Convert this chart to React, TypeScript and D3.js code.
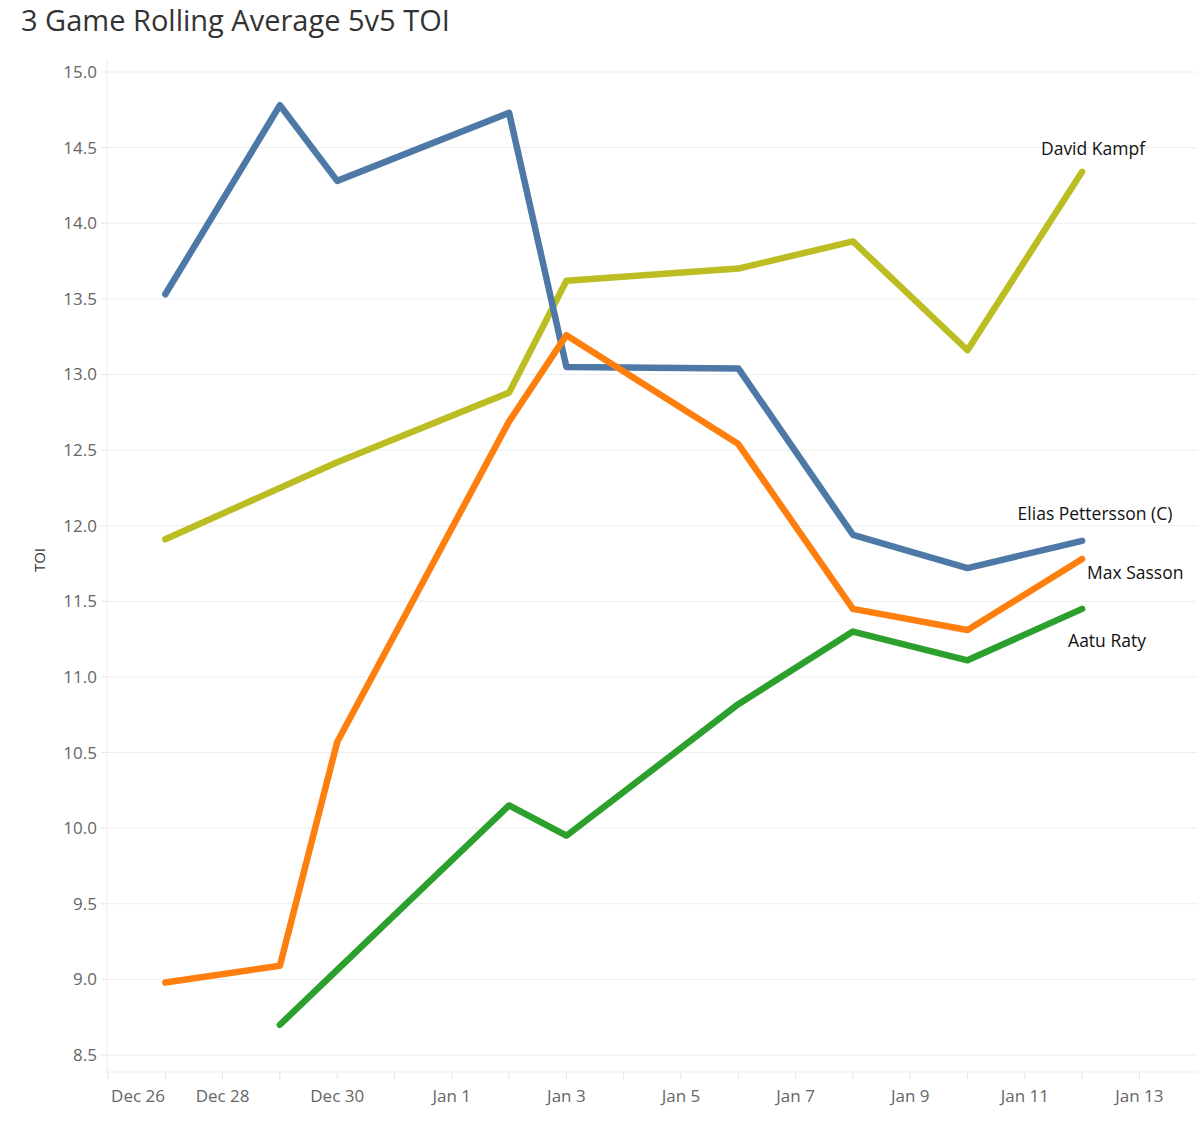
import React from "react";
import * as d3 from "d3";

const dates = ["2023-12-27", "2023-12-29", "2023-12-30", "2024-01-02", "2024-01-03", "2024-01-06", "2024-01-08", "2024-01-10", "2024-01-12"];

const pettersson = [13.53, 14.78, 14.28, 14.73, 13.05, 13.04, 11.94, 11.72, 11.90];
const kampf = [11.91, null, 12.42, 12.88, 13.62, 13.70, 13.88, 13.16, 14.34];
const sasson = [8.98, 9.09, 10.57, 12.69, 13.26, 12.54, 11.45, 11.31, 11.78];
const raty = [null, 8.70, null, 10.15, 9.95, 10.82, 11.30, 11.11, 11.45];

const yTicks = [8.5, 9.0, 9.5, 10.0, 10.5, 11.0, 11.5, 12.0, 12.5, 13.0, 13.5, 14.0, 14.5, 15.0];
const xTickLabels = ["2023-12-26", "2023-12-28", "2023-12-30", "2024-01-01", "2024-01-03", "2024-01-05", "2024-01-07", "2024-01-09", "2024-01-11", "2024-01-13"];

const series = [
  { name: "David Kampf", values: kampf, color: "#bcbd22", lx: 1093, ly: 155, anchor: "middle" },
  { name: "Elias Pettersson (C)", values: pettersson, color: "#4e79a7", lx: 1095, ly: 520, anchor: "middle" },
  { name: "Max Sasson", values: sasson, color: "#ff7f0e", lx: 1087, ly: 579, anchor: "start" },
  { name: "Aatu Raty", values: raty, color: "#2ca02c", lx: 1107, ly: 647, anchor: "middle" },
];

const parse = d3.timeParse("%Y-%m-%d");

export default function App() {
  const W = 1200, H = 1122;
  const left = 107, right = 1197, top = 60, bottom = 1072;
  const x = d3.scaleTime()
    .domain([parse("2023-12-26")!, parse("2024-01-14")!])
    .range([108, 108 + 19 * 57.3]);
  const y = d3.scaleLinear().domain([8.5, 15.0]).range([1055, 72]);
  const days = d3.timeDay.range(parse("2023-12-26")!, parse("2024-01-14")!);
  const fmt = d3.timeFormat("%b %-d");
  const font = "'Open Sans', 'Noto Sans', sans-serif";

  return (
    <svg width={W} height={H} style={{ position: "absolute", left: 0, top: 0, background: "#fff" }} fontFamily={font}>
      <text x={21} y={31} fontSize={29} fill="#333">3 Game Rolling Average 5v5 TOI</text>
      {yTicks.map((t) => (
        <g key={t}>
          <line x1={left} x2={right} y1={y(t)} y2={y(t)} stroke="#eeeeee" strokeWidth={1} />
          <line x1={left - 6} x2={left} y1={y(t)} y2={y(t)} stroke="#e4e4e4" strokeWidth={1} />
          <text x={97} y={y(t) + 6} textAnchor="end" fontSize={17} fill="#666">{t.toFixed(1)}</text>
        </g>
      ))}
      <line x1={left} x2={left} y1={top} y2={bottom} stroke="#ebebeb" />
      <line x1={left} x2={right} y1={bottom} y2={bottom} stroke="#ebebeb" />
      {days.map((d, i) => (
        <line key={i} x1={x(d)} x2={x(d)} y1={bottom} y2={bottom + 7} stroke="#e4e4e4" />
      ))}
      {xTickLabels.map((s, i) => {
        const d = parse(s)!;
        const px = i === 0 ? x(d) + 30 : x(d);
        return (
          <text key={s} x={px} y={1102} textAnchor="middle" fontSize={17} fill="#666">{fmt(d)}</text>
        );
      })}
      <text transform={`translate(45,560) rotate(-90)`} textAnchor="middle" fontSize={15} fill="#333">TOI</text>
      {series.map((s) => {
        const pts = dates.map((d, i) => ({ d: parse(d)!, v: s.values[i] })).filter((p) => p.v !== null) as { d: Date; v: number }[];
        const line = d3.line<{ d: Date; v: number }>().x((p) => x(p.d)).y((p) => y(p.v));
        return (
          <g key={s.name}>
            <path d={line(pts)!} fill="none" stroke={s.color} strokeWidth={6.5} strokeLinecap="round" strokeLinejoin="round" />
          </g>
        );
      })}
      {series.map((s) => (
        <text key={s.name + "l"} x={s.lx} y={s.ly} textAnchor={s.anchor as any} fontSize={17.5} fontWeight={500} fill="#111">{s.name}</text>
      ))}
    </svg>
  );
}
